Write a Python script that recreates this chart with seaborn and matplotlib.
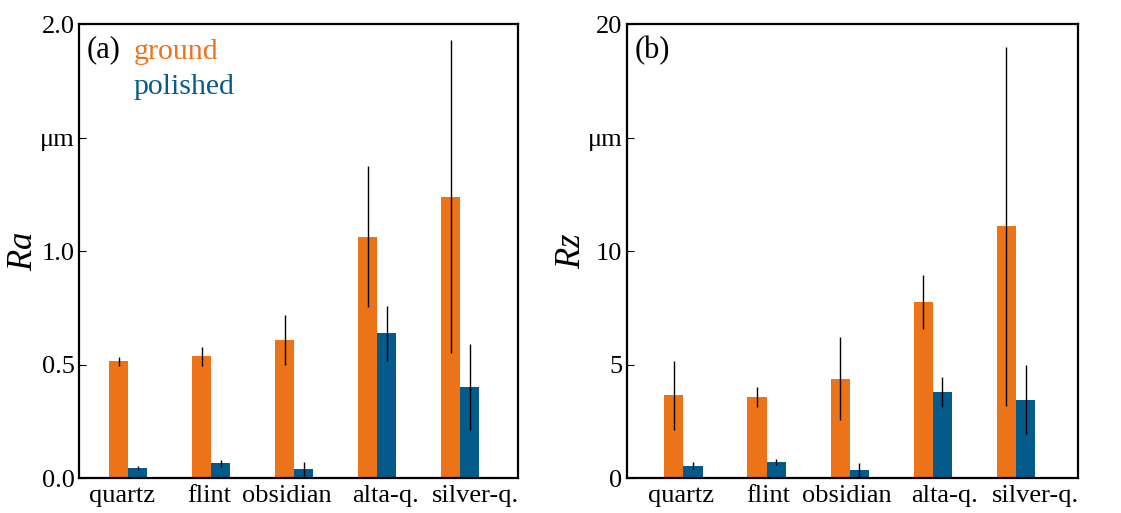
import pandas as pd
import matplotlib.pyplot as plt
import matplotlib.transforms as mtransforms
import seaborn as sns

# valores
materials = ['quartz', 'flint', 'obsidian', 'alta-q.', 'silver-q.']
finishes = ['ground', 'polished']

ra_ground = [0.515, 0.536, 0.61, 1.063, 1.239]
ra_ground_err = [0.02, 0.04, 0.11, 0.31, 0.69]
ra_polished = [0.044, 0.066, 0.04, 0.638, 0.402]
ra_polished_err = [0.01, 0.015, 0.03, 0.12, 0.19]

rz_ground = [3.64, 3.57, 4.38, 7.74, 11.09]
rz_ground_err = [1.54, 0.44, 1.83, 1.19, 7.9]
rz_polished = [0.54, 0.71, 0.37, 3.78, 3.45]
rz_polished_err = [0.15, 0.15, 0.3, 0.66, 1.52]

ra_ticks = [0.0, 0.5, 1.0, 1.5, 2.0]
ra_ticklabels = ['0.0', '0.5', '1.0', 'μm', '2.0']
rz_ticks = [0, 5, 10, 15, 20]
rz_ticklabels = ['0', '5', '10', 'μm', '20']

# deslocamento horizontal dos rotulos do eixo x (em pixels), como no original
ra_label_shift = [-6, -2, -7, 8, 15]
rz_label_shift = [-2, 2, -3, 12, 19]

colors = {'ground': '#ec7318', 'polished': '#055a8c'}

sns.set_style('ticks', {'text.color': 'black', 'axes.labelcolor': 'black',
                        'xtick.color': 'black', 'ytick.color': 'black'})
plt.rcParams['font.family'] = ['Liberation Serif', 'DejaVu Serif']
plt.rcParams['mathtext.fontset'] = 'custom'
plt.rcParams['mathtext.it'] = 'Liberation Serif:italic'


def make_df(ground, polished):
    return pd.DataFrame({
        'material': materials * 2,
        'finish': ['ground'] * len(materials) + ['polished'] * len(materials),
        'value': ground + polished,
    })


def draw_panel(ax, ground, g_err, polished, p_err, ylabel, ticks, ticklabels, tag, xlim,
               shifts, legend):
    df = make_df(ground, polished)
    sns.barplot(data=df, x='material', y='value', hue='finish', hue_order=finishes,
                palette=colors, width=0.46, gap=0, saturation=1, errorbar=None,
                linewidth=0, legend=legend, ax=ax)
    # barras de erro (sem capa)
    for cont, err in zip(ax.containers, [g_err, p_err]):
        xs = [b.get_x() + b.get_width() / 2 for b in cont]
        ys = [b.get_height() for b in cont]
        ax.errorbar(xs, ys, yerr=err, fmt='none', ecolor='black', elinewidth=1.0, capsize=0)
    ax.set_ylim(ticks[0], ticks[-1])
    ax.set_xlim(*xlim)
    ax.set_yticks(ticks)
    ax.set_yticklabels(ticklabels)
    ax.set_xlabel('')
    ax.set_ylabel(ylabel, fontsize=25, labelpad=0, color='black')
    ax.tick_params(axis='y', direction='in', length=5, width=0.8, labelsize=19, pad=3,
                   colors='black')
    ax.tick_params(axis='x', length=0, labelsize=19, pad=5, colors='black')
    for lab, dx in zip(ax.get_xticklabels(), shifts):
        off = mtransforms.ScaledTranslation(dx / 100, 0, ax.figure.dpi_scale_trans)
        lab.set_transform(lab.get_transform() + off)
    for s in ax.spines.values():
        s.set_visible(True)
        s.set_linewidth(1.6)
        s.set_color('black')
    ax.text(0.018, 0.975, tag, transform=ax.transAxes, fontsize=22, va='top', ha='left',
            color='black')
    if legend:
        leg = ax.legend(loc='upper left', bbox_to_anchor=(0.125, 0.97), frameon=False,
                        handlelength=0, handletextpad=0, borderpad=0, borderaxespad=0,
                        labelspacing=0.3, fontsize=21.5)
        for txt, h in zip(leg.get_texts(), leg.legend_handles):
            txt.set_color(h.get_facecolor())
            h.set_visible(False)


fig = plt.figure(figsize=(11.21, 5.13), dpi=100)
ax1 = fig.add_axes([0.0705, 0.068, 0.3915, 0.885])
ax2 = fig.add_axes([0.559, 0.068, 0.4027, 0.885])

draw_panel(ax1, ra_ground, ra_ground_err, ra_polished, ra_polished_err, '$Ra$',
           ra_ticks, ra_ticklabels, '(a)', (-0.594, 4.695), ra_label_shift, True)
draw_panel(ax2, rz_ground, rz_ground_err, rz_polished, rz_polished_err, '$Rz$',
           rz_ticks, rz_ticklabels, '(b)', (-0.683, 4.747), rz_label_shift, False)

fig.savefig('out.png', dpi=100)
